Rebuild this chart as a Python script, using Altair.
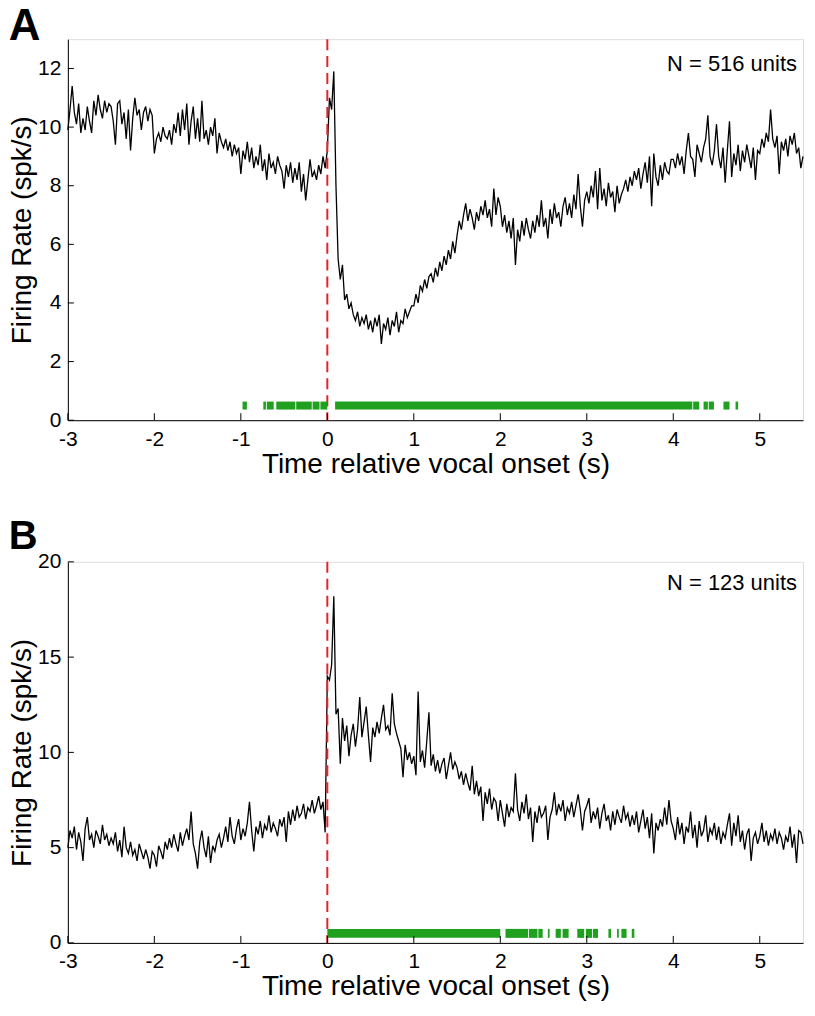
import altair as alt
import pandas as pd

# ---------------- data ----------------
T0 = -3.0
DT = 0.025

rate_a = [
    9.9, 10.6, 11.4, 10.5, 10.1, 10.8, 9.8, 10.3, 9.9, 10.7, 10.2, 9.8, 10.9, 10.4, 11.1, 10.6, 10.3, 10.9, 10.5, 10.8,
    10.7, 10.2, 9.4, 10.8, 10.9, 10.1, 10.5, 9.6, 10.6, 9.2, 10.3, 11.0, 10.4, 10.6, 9.9, 10.5, 10.7, 10.2, 10.6, 10.4,
    9.1, 9.6, 9.8, 9.5, 10.0, 9.7, 9.6, 9.9, 9.4, 10.1, 9.8, 10.5, 9.7, 10.6, 9.9, 10.8, 9.4, 10.2, 10.7, 9.6,
    10.3, 9.5, 10.9, 9.6, 9.9, 9.4, 10.0, 9.7, 10.3, 9.1, 9.8, 9.5, 9.3, 9.6, 9.2, 9.5, 9.0, 9.4, 9.1, 9.3,
    8.4, 9.2, 8.9, 9.5, 8.8, 9.3, 8.6, 9.0, 8.7, 9.4, 8.5, 8.9, 8.2, 9.1, 8.6, 8.8, 8.4, 9.0, 8.7, 8.5,
    7.9, 8.7, 8.3, 8.8, 8.1, 8.6, 8.2, 8.8, 7.8, 8.4, 7.5, 8.2, 8.9, 8.3, 8.5, 8.2, 8.7, 8.4, 9.0, 8.6,
    9.2, 11.0, 10.6, 11.9, 8.0, 5.5, 4.8, 5.3, 4.1, 4.3, 3.8, 4.0, 3.6, 3.4, 3.7, 3.2, 3.5, 3.3, 3.6, 3.1,
    3.4, 3.0, 3.5, 3.2, 3.6, 2.6, 3.3, 3.1, 3.5, 2.9, 3.4, 3.2, 3.7, 3.0, 3.4, 3.3, 3.8, 3.5, 3.7, 3.9,
    3.9, 4.3, 4.0, 4.6, 4.4, 4.8, 4.5, 4.9, 5.0, 4.7, 5.2, 4.9, 5.4, 5.1, 5.6, 5.3, 5.8, 5.5, 6.1, 5.7,
    6.3, 6.8, 6.5, 7.0, 7.4, 6.8, 7.2, 6.9, 6.5, 7.1, 6.8, 7.3, 7.0, 7.5, 6.9, 7.2, 6.6, 7.9, 7.0, 7.6,
    7.3, 6.6, 7.0, 6.4, 6.8, 6.2, 6.9, 5.3, 6.5, 6.1, 6.8, 6.3, 6.9, 6.5, 6.2, 6.8, 6.4, 7.0, 6.6, 7.5,
    6.6, 6.9, 6.2, 7.2, 6.7, 7.4, 6.9, 7.1, 6.6, 7.3, 7.6, 7.0, 7.4, 6.9, 7.7, 7.2, 8.4, 7.3, 6.6, 7.5,
    7.8, 7.4, 8.0, 7.6, 8.5, 7.2, 8.6, 7.5, 7.9, 7.3, 8.1, 7.6, 7.8, 7.1, 8.0, 7.4, 7.7, 7.9, 8.2, 7.8,
    8.3, 8.0, 8.5, 8.2, 8.6, 7.9, 8.4, 8.8, 8.1, 9.0, 7.3, 9.1, 8.3, 8.0, 8.7, 8.2, 8.8, 8.5, 8.4, 8.9,
    8.9, 8.6, 9.1, 8.7, 9.0, 8.4, 9.2, 9.8, 9.0, 8.9, 8.3, 9.4, 9.1, 8.8, 9.3, 9.6, 10.4, 9.0, 8.7, 9.2,
    10.1, 9.0, 8.6, 9.3, 8.1, 9.2, 10.2, 8.3, 9.1, 8.7, 9.4, 8.5, 9.2, 8.8, 9.4, 9.0, 8.6, 9.3, 8.2, 9.2,
    9.1, 9.6, 9.3, 9.8, 9.5, 10.6, 9.6, 9.3, 9.7, 8.4, 9.5, 9.2, 9.6, 9.0, 9.7, 9.4, 9.8, 9.1, 9.3, 8.6,
    9.0,
]

rate_b = [
    5.0, 5.9, 5.5, 6.1, 4.9, 5.8, 5.3, 4.3, 6.0, 6.6, 5.4, 5.7, 5.0, 5.9, 5.6, 5.2, 6.2, 5.4, 5.7, 5.1,
    5.5, 5.2, 5.8, 4.8, 5.4, 4.5, 6.1, 5.0, 4.7, 5.3, 4.6, 4.9, 4.3, 5.2, 4.8, 4.4, 4.9, 4.5, 3.9, 4.8,
    4.6, 4.0, 5.1, 4.8, 4.4, 5.3, 4.9, 5.5, 5.0, 5.7, 5.2, 4.8, 5.8, 5.1, 5.6, 6.0, 5.4, 6.9, 5.2, 4.7,
    3.9, 5.3, 5.9, 5.0, 4.5, 5.6, 4.2, 5.1, 4.8, 5.4, 5.7, 5.0, 5.5, 6.1, 5.3, 6.6, 5.6, 5.2, 6.0, 6.5,
    5.4, 6.0, 5.6, 6.3, 7.4, 5.9, 4.8, 6.1, 5.7, 6.4, 5.5, 6.2, 5.9, 6.7, 5.8, 6.3, 6.0, 5.6, 6.5, 6.1,
    6.6, 5.3, 6.9, 6.2, 7.0, 6.4, 7.2, 6.6, 6.8, 7.3, 6.5, 7.1, 6.9, 7.5, 6.8, 7.2, 7.7, 7.0, 7.4, 5.8,
    14.0, 13.8, 14.6, 18.2, 12.0, 12.3, 9.4, 11.8, 10.6, 11.4, 9.8, 10.9, 11.5, 10.3, 11.2, 12.9, 10.8, 11.6, 12.4, 10.9,
    9.5, 11.3, 10.8, 11.6, 11.0, 11.8, 12.5, 11.2, 11.4, 10.9, 13.1, 11.5, 11.0, 10.6, 10.2, 8.7, 10.4, 9.6, 10.0, 9.4,
    9.8, 8.8, 13.2, 9.5, 10.1, 9.2, 10.6, 12.1, 9.3, 9.9, 9.0, 9.6, 8.9, 9.4, 9.7, 8.6, 9.3, 10.0, 9.1, 9.5,
    9.2, 8.6, 9.0, 8.3, 8.9, 8.4, 8.0, 9.3, 7.8, 8.5, 7.7, 8.2, 6.4, 7.9, 7.3, 8.1, 7.0, 7.6, 7.4, 6.4,
    7.5, 6.8, 6.1, 7.3, 6.6, 7.1, 6.9, 8.9, 7.0, 6.4, 7.4, 6.8, 7.8, 6.5, 7.1, 5.3, 6.9, 6.3, 7.2, 6.6,
    6.8, 7.2, 5.4, 6.6, 7.0, 7.9, 6.7, 7.3, 6.9, 7.5, 6.4, 7.1, 6.8, 7.4, 6.6, 7.2, 7.8, 7.0, 5.9, 6.9,
    7.2, 7.6, 6.3, 6.9, 6.5, 7.1, 6.0, 6.8, 7.3, 6.4, 6.7, 5.9, 6.9, 6.2, 7.0, 6.6, 6.3, 7.2, 6.5, 6.8,
    6.1, 6.7, 6.2, 6.9, 5.8, 6.4, 7.0, 6.0, 6.6, 5.5, 6.8, 4.7, 6.3, 5.9, 6.5, 6.1, 7.1, 6.2, 7.5, 6.4,
    6.0, 5.4, 6.6, 5.7, 6.3, 5.2, 6.1, 5.8, 6.9, 5.5, 6.2, 5.0, 6.4, 5.6, 5.9, 6.7, 5.3, 6.0, 5.7, 6.3,
    5.4, 6.1, 5.2, 5.8, 5.5, 6.2, 6.8, 5.1, 6.3, 5.6, 6.7, 5.3, 5.9, 4.9, 5.7, 6.0, 4.3, 5.5, 5.8, 5.2,
    5.6, 6.3, 5.3, 5.9, 5.1, 5.7, 5.4, 6.0, 5.2, 5.8, 5.5, 4.9, 5.6, 5.3, 6.1, 5.0, 5.7, 4.2, 5.9, 5.8,
    5.2,
]

sig_a_start = [-0.98, -0.74, -0.70, -0.59, -0.36, -0.17, -0.08, 0.09, 4.23, 4.35, 4.41, 4.58, 4.72]
sig_a_end = [-0.93, -0.71, -0.62, -0.37, -0.18, -0.09, 0.0, 4.22, 4.30, 4.40, 4.47, 4.65, 4.75]

sig_b_start = [0.0, 2.06, 2.33, 2.44, 2.55, 2.64, 2.72, 2.89, 2.99, 3.07, 3.25, 3.35, 3.40, 3.52]
sig_b_end = [2.0, 2.32, 2.43, 2.49, 2.57, 2.70, 2.79, 2.97, 3.06, 3.13, 3.28, 3.37, 3.46, 3.55]

sig_level = 0.5

x_ticks = [-3, -2, -1, 0, 1, 2, 3, 4, 5]
y_ticks_a = [0, 2, 4, 6, 8, 10, 12]
y_ticks_b = [0, 5, 10, 15, 20]

x_title = "Time relative vocal onset (s)"
y_title = "Firing Rate (spk/s)"
n_text_a = "N = 516 units"
n_text_b = "N = 123 units"

# ---------------- styling ----------------
W, H = 737, 382
FONT = "Liberation Sans"
RED = "#e3242b"
GREEN = "#1fa01f"


def panel(rates, s_start, s_end, y_ticks, ymax, letter, letter_size, letter_offset, n_text, n_x, n_y, bar_w):
    df = pd.DataFrame({"t": [round(T0 + i * DT, 4) for i in range(len(rates))], "rate": rates})
    xs = alt.Scale(domain=[-3, 5.5], nice=False, zero=False)
    ys = alt.Scale(domain=[0, ymax], nice=False)

    x_axis = alt.Axis(
        values=x_ticks, ticks=False, grid=False, domainColor="black", domainWidth=1,
        labelFontSize=21, labelColor="black", labelPadding=8, labelFlush=False,
        labelFont=FONT, labelExpr="'' + datum.value",
        title=x_title, titleFontSize=28, titleFont=FONT, titleFontWeight="normal",
        titleColor="black", titlePadding=1,
    )
    y_axis = alt.Axis(
        values=y_ticks, ticks=False, grid=False, domainColor="black", domainWidth=1,
        labelFontSize=21, labelColor="black", labelPadding=7, labelFont=FONT,
        title=y_title, titleFontSize=28, titleFont=FONT, titleFontWeight="normal",
        titleColor="black", titlePadding=1,
    )

    line = alt.Chart(df).mark_line(color="black", strokeWidth=1.3).encode(
        x=alt.X("t:Q", scale=xs, axis=x_axis),
        y=alt.Y("rate:Q", scale=ys, axis=y_axis),
    )

    onset = alt.Chart(pd.DataFrame({"t": [0.0], "top": [ymax], "bot": [0.0]})).mark_rule(
        color=RED, strokeWidth=2, strokeDash=[11, 6]
    ).encode(x=alt.X("t:Q", scale=xs), y=alt.Y("top:Q", scale=ys), y2="bot:Q")

    sig = alt.Chart(pd.DataFrame({"s": s_start, "e": s_end, "lvl": [sig_level] * len(s_start)})).mark_rule(
        color=GREEN, strokeWidth=bar_w, strokeCap="butt"
    ).encode(x=alt.X("s:Q", scale=xs), x2="e:Q", y=alt.Y("lvl:Q", scale=ys))

    xt = alt.Chart(pd.DataFrame({"v": x_ticks})).mark_rule(color="black", strokeWidth=1).encode(
        x=alt.X("v:Q", scale=xs), y=alt.value(H), y2=alt.value(H - 7)
    )
    yt = alt.Chart(pd.DataFrame({"v": y_ticks})).mark_rule(color="black", strokeWidth=1).encode(
        y=alt.Y("v:Q", scale=ys), x=alt.value(0), x2=alt.value(6)
    )

    label = alt.Chart(pd.DataFrame({"x": [n_x], "y": [n_y], "txt": [n_text]})).mark_text(
        align="right", baseline="middle", fontSize=22, font=FONT, color="black"
    ).encode(x=alt.X("x:Q", scale=xs), y=alt.Y("y:Q", scale=ys), text="txt:N")

    return alt.layer(line, onset, sig, xt, yt, label).properties(
        width=W, height=H,
        title=alt.TitleParams(
            text=letter, anchor="start", frame="bounds", fontSize=letter_size,
            fontWeight="bold", font=FONT, color="black", offset=letter_offset,
        ),
    )


pa = panel(rate_a, sig_a_start, sig_a_end, y_ticks_a, 13, "A", 44, -11, n_text_a, 5.43, 12.16, 8)
pb = panel(rate_b, sig_b_start, sig_b_end, y_ticks_b, 20, "B", 40, -6, n_text_b, 5.43, 18.9, 9)

chart = alt.vconcat(pa, pb, spacing=37).properties(
    padding={"left": 0, "top": -5, "right": 0, "bottom": 0}
).configure_view(stroke=None).configure(background="white")

chart.save("out.html", embed_options={"renderer": "svg", "actions": False})
